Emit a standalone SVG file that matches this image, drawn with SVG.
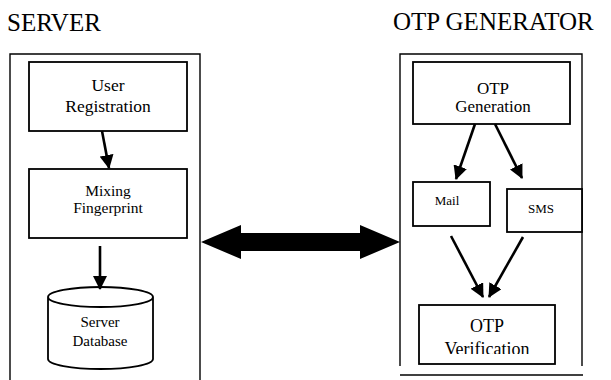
<svg xmlns="http://www.w3.org/2000/svg" width="611" height="380" viewBox="0 0 611 380" font-family="'Liberation Serif', 'Times New Roman', serif">
  <style>
    .frame { fill: none; stroke: #000; stroke-width: 1.4; }
    .box { fill: #fff; stroke: #000; stroke-width: 1.8; }
    text { font-family: "Liberation Serif", "Times New Roman", serif; fill: #000; }
    .title { font-size: 25px; }
    .lbl { text-anchor: middle; }
    .flow { fill: none; stroke: #000; stroke-width: 2.6; marker-end: url(#head); }
  </style>
  <defs>
    <marker id="head" markerUnits="userSpaceOnUse" markerWidth="14" markerHeight="14" viewBox="0 0 14 14" refX="13" refY="7" orient="auto">
      <path d="M0,0 L14,7 L0,14 z" fill="#000"/>
    </marker>
    <clipPath id="verifClip">
      <rect x="419" y="305" width="136" height="49"/>
    </clipPath>
  </defs>

  <!-- section titles -->
  <text class="title" x="7" y="31">SERVER</text>
  <text class="title" x="393" y="30">OTP GENERATOR</text>

  <!-- server frame (open at the bottom) -->
  <path class="frame" d="M10,380 V54 H200 V380"/>
  <!-- generator frame -->
  <path class="frame" d="M400,366 V54 H582 V366"/>
  <line class="frame" x1="400" y1="375" x2="583" y2="375"/>

  <g id="user-registration">
    <rect class="box" x="29" y="62" width="158" height="69"/>
    <text class="lbl" x="108" y="91" font-size="17.5">User</text>
    <text class="lbl" x="108" y="112" font-size="17.5">Registration</text>
  </g>

  <g id="mixing-fingerprint">
    <rect class="box" x="29" y="169" width="158" height="69"/>
    <text class="lbl" x="108" y="196" font-size="15.5">Mixing</text>
    <text class="lbl" x="108" y="213" font-size="15.5">Fingerprint</text>
  </g>

  <g id="server-database">
    <path class="box" d="M48,297 V359 A52.5,10 0 0 0 153,359 V297 A52.5,10 0 0 0 48,297 A52.5,10 0 0 0 153,297"/>
    <text class="lbl" x="100" y="327" font-size="15">Server</text>
    <text class="lbl" x="100" y="346" font-size="15">Database</text>
  </g>

  <g id="otp-generation">
    <rect class="box" x="413" y="62" width="157" height="62"/>
    <text class="lbl" x="493" y="94" font-size="17">OTP</text>
    <text class="lbl" x="493" y="111.5" font-size="17">Generation</text>
  </g>

  <g id="mail">
    <rect class="box" x="413" y="182" width="77" height="44"/>
    <text class="lbl" x="447" y="205" font-size="13">Mail</text>
  </g>

  <g id="sms">
    <rect class="box" x="507" y="189" width="75" height="43"/>
    <text class="lbl" x="541" y="213" font-size="13">SMS</text>
  </g>

  <g id="otp-verification">
    <rect class="box" x="419" y="305" width="136" height="59"/>
    <g clip-path="url(#verifClip)">
      <text class="lbl" x="487" y="332" font-size="18">OTP</text>
      <text class="lbl" x="487" y="355" font-size="18">Verification</text>
    </g>
  </g>

  <g id="connectors">
    <line class="flow" x1="102" y1="131" x2="109" y2="168"/>
    <line class="flow" x1="100" y1="246" x2="100" y2="289"/>
    <line class="flow" x1="475" y1="124" x2="456" y2="179"/>
    <line class="flow" x1="495" y1="124" x2="522" y2="178"/>
    <line class="flow" x1="451" y1="236" x2="483" y2="297"/>
    <line class="flow" x1="523" y1="237" x2="489" y2="297"/>
    <!-- two-way link between server and generator -->
    <polygon points="201,242 241,225 241,233 360,233 360,225 400,242 360,259 360,251 241,251 241,259" fill="#000"/>
  </g>
</svg>
